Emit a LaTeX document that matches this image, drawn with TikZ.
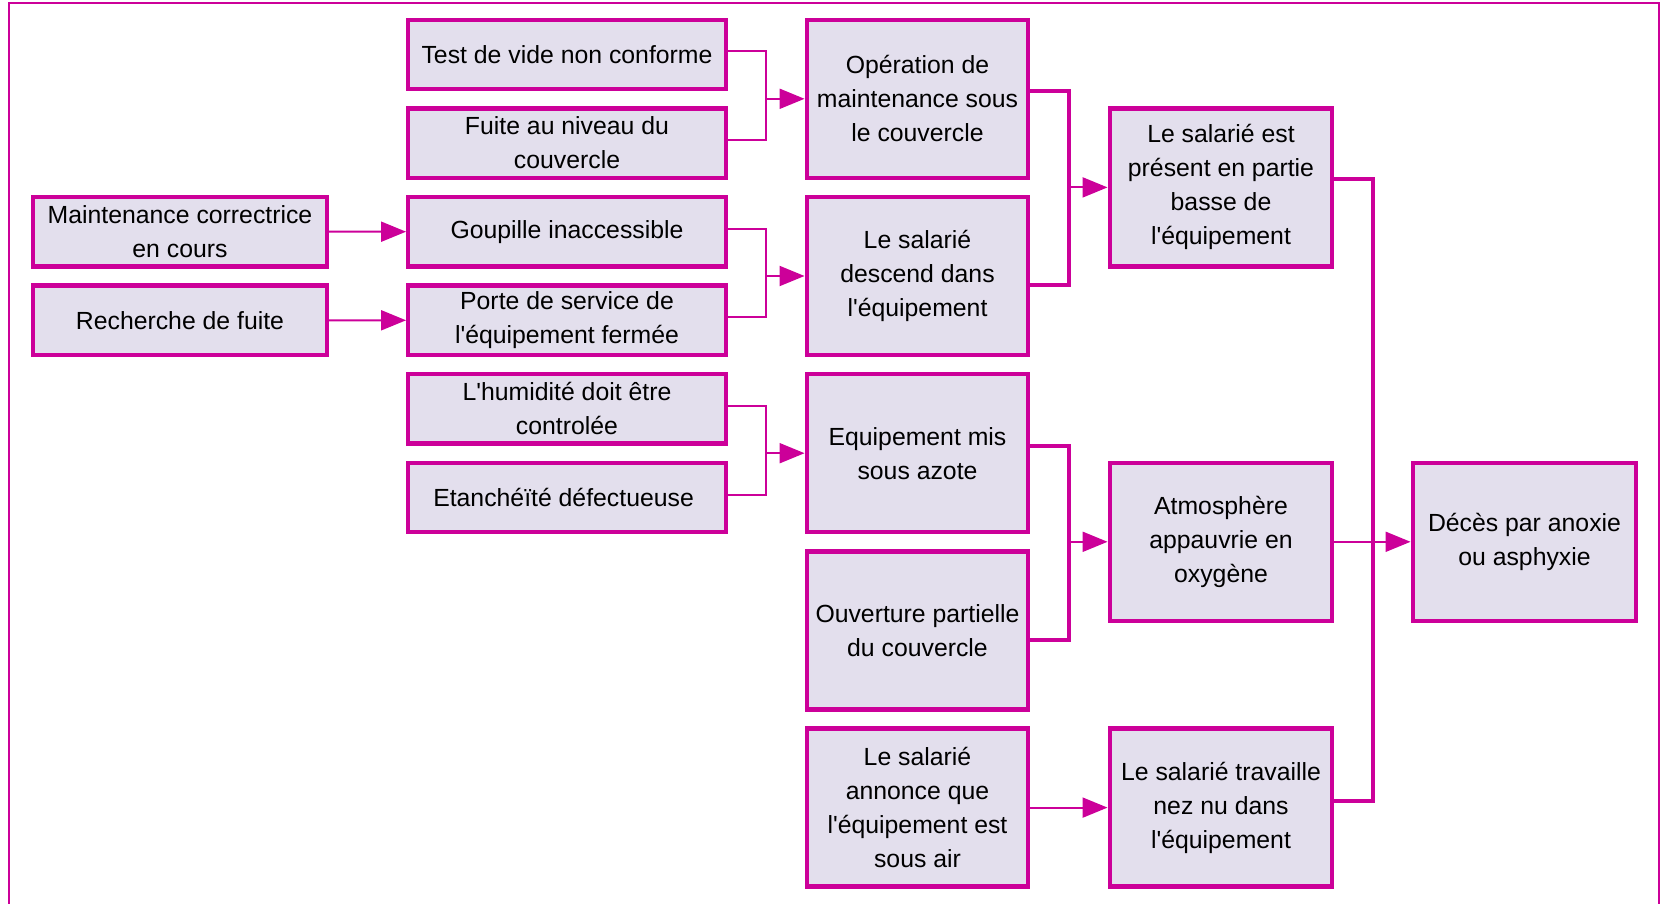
\documentclass[tikz,border=0pt]{standalone}
\usepackage{fontspec}
\setmainfont{Liberation Sans}
\usetikzlibrary{arrows.meta,calc}

\definecolor{cadre}{RGB}{204,0,153}
\definecolor{fond}{RGB}{227,223,237}

\tikzset{
	bloc/.style={draw=cadre, line width=2.2pt, fill=fond, inner sep=1pt, align=center,
		font=\fontsize{12.4}{17}\selectfont, minimum height=34.75pt},
	haut/.style={minimum height=79.05pt},
	lien/.style={draw=cadre, line width=1pt},
	epais/.style={draw=cadre, line width=2pt},
	fleche/.style={lien, -{Triangle[length=12.5pt, width=10pt]}},
}

\begin{document}
\begin{tikzpicture}[yscale=-1, x=0.5pt, y=0.5pt]
	\useasboundingbox (0,0) rectangle (1662,904);
	\draw[cadre, line width=1pt] (8.5,904) -- (8.5,3.5) -- (1659,3.5) -- (1659,904);

	% causes premieres
	\node[bloc, minimum width=146.75pt] (maint) at (180, 231.7) {Maintenance correctrice\\en cours};
	\node[bloc, minimum width=146.75pt] (recherche) at (180, 320.3) {Recherche de fuite};
	\foreach \nom/\k/\txt in {
		test/0/{Test de vide non conforme}, fuite/1/{Fuite au niveau du\\couvercle},
		goupille/2/{Goupille inaccessible}, porte/3/{Porte de service de\\l\textquotesingle{}équipement fermée},
		humid/4/{L\textquotesingle{}humidité doit être\\controlée}, etanch/5/{Etanchéïté défectueuse}
	}
		\node[bloc, minimum width=158.75pt] (\nom) at (567, {54.5+88.6*\k}) {\txt};

	% evenements intermediaires
	\node[bloc, haut, minimum width=110.75pt] (oper) at (917.5, 98.8) {Opération de\\maintenance sous\\le couvercle};
	\node[bloc, haut, minimum width=110.75pt] (descend) at (917.5, 276) {Le salarié\\descend dans\\l\textquotesingle{}équipement};
	\node[bloc, haut, minimum width=110.75pt] (azote) at (917.5, 453.2) {Equipement mis\\sous azote};
	\node[bloc, haut, minimum width=110.75pt] (ouvert) at (917.5, 630.4) {Ouverture partielle\\du couvercle};
	\node[bloc, haut, minimum width=110.75pt] (annonce) at (917.5, 807.6) {Le salarié\\annonce que\\l\textquotesingle{}équipement est\\sous air};
	\node[bloc, haut, minimum width=111.25pt] (present) at (1221, 187.4) {Le salarié est\\présent en partie\\basse de\\l\textquotesingle{}équipement};
	\node[bloc, haut, minimum width=111.25pt] (atmos) at (1221, 541.8) {Atmosphère\\appauvrie en\\oxygène};
	\node[bloc, haut, minimum width=111.25pt] (nez) at (1221, 807.6) {Le salarié travaille\\nez nu dans\\l\textquotesingle{}équipement};
	\node[bloc, haut, minimum width=111.75pt] (deces) at (1524.5, 541.8) {Décès par anoxie\\ou asphyxie};

	% liens
	\draw[fleche] (maint.east) -- (goupille.west);
	\draw[fleche] (recherche.east) -- (porte.west);
	\foreach \h/\b/\c in {test/fuite/oper, goupille/porte/descend, humid/etanch/azote} {
		\coordinate (j\c) at ($(\h.east)!.5!(\c.west)$);
		\draw[lien] ($(\h.east)+(0,-3)$) -| ($(j\c |- \b.east)+(0,-3)$) -- ($(\b.east)+(0,-3)$);
		\draw[fleche] (j\c |- \c.west) -- (\c.west);
	}
	\foreach \h/\dh/\b/\db/\d in {oper/-8/descend/9/present, azote/-7/ouvert/10/atmos} {
		\coordinate (j\d) at ($(\h.east)!.5!(\d.west)$);
		\draw[epais] ($(\h.east)+(0,\dh)$) -| ($(j\d |- \b.east)+(0,\db)$) -- ($(\b.east)+(0,\db)$);
		\draw[fleche] (j\d |- \d.west) -- (\d.west);
	}
	\draw[fleche] (annonce.east) -- (nez.west);
	\coordinate (jdeces) at ($(present.east)!.5!(deces.west)$);
	\draw[epais] ($(present.east)+(0,-8)$) -| ($(jdeces |- nez.east)+(0,-7)$) -- ($(nez.east)+(0,-7)$);
	\draw[fleche] (atmos.east) -- (deces.west);
\end{tikzpicture}
\end{document}
